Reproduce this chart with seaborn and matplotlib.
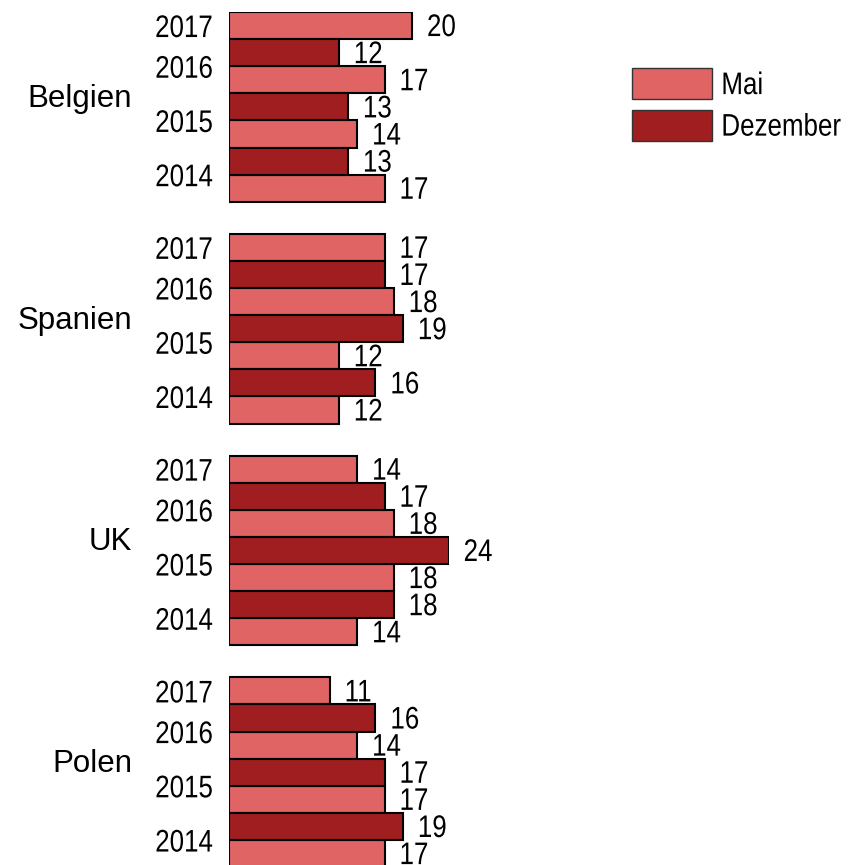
import pandas as pd
import matplotlib.pyplot as plt
import seaborn as sns
from matplotlib.patches import Patch
from matplotlib.transforms import Affine2D
from matplotlib import patheffects

# Data
countries = ["Belgien", "Spanien", "UK", "Polen"]
# bar order inside each country block, top to bottom
bar_years = [2017, 2016, 2016, 2015, 2015, 2014, 2014]
bar_months = ["Mai", "Dezember", "Mai", "Dezember", "Mai", "Dezember", "Mai"]
belgien = [20, 12, 17, 13, 14, 13, 17]
spanien = [17, 17, 18, 19, 12, 16, 12]
uk = [14, 17, 18, 24, 18, 18, 14]
polen = [11, 16, 14, 17, 17, 19, 17]
months = ["Mai", "Dezember"]
colors = {"Mai": "#E06464", "Dezember": "#A01E1F"}

GROUP_STEP = 8.18  # 7 bars + gap
FONT = ["Liberation Sans", "DejaVu Sans"]
FS = 22.5


# no narrow font installed, so squeeze the glyphs horizontally instead
class Narrow(patheffects.AbstractPathEffect):
    def __init__(self, sx=0.83):
        super().__init__()
        self.sx = sx

    def draw_path(self, renderer, gc, tpath, affine, rgbFace=None):
        renderer.draw_path(gc, tpath, Affine2D().scale(self.sx, 1) + affine, rgbFace)


narrow = [Narrow()]

rows = []
for g, (name, vals) in enumerate(zip(countries, [belgien, spanien, uk, polen])):
    for i, v in enumerate(vals):
        rows.append({"land": name, "jahr": bar_years[i], "monat": bar_months[i],
                     "wert": v, "pos": g * GROUP_STEP + i})
df = pd.DataFrame(rows)

sns.set_style("white")
plt.rcParams["font.family"] = FONT
plt.rcParams["text.color"] = "black"
plt.rcParams["ytick.color"] = "black"

fig = plt.figure(figsize=(8.59, 8.65), dpi=100)
ax = fig.add_axes([229 / 859, 0, 24 * 9.15 / 859, 1 - 12 / 865])

sns.barplot(data=df, x="wert", y="pos", hue="monat", hue_order=months,
            palette=colors, orient="h", native_scale=True, width=1.0,
            dodge=False, saturation=1, errorbar=None, edgecolor="black",
            linewidth=1.5, legend=False, ax=ax)

ax.set_xlim(0, 24)
ax.set_ylim(30.96, -0.5)
sns.despine(ax=ax, left=True, bottom=True)
ax.set_xticks([])
ax.set_xlabel("")
ax.set_ylabel("")

# year labels sit between the two bars of the same year
year_pos = df.groupby(["land", "jahr"], sort=False)["pos"].mean()
ax.set_yticks(year_pos.values, [str(y) for (_, y) in year_pos.index])
ax.tick_params(axis="y", length=0, pad=3)
for lbl in ax.get_yticklabels():
    lbl.set_fontsize(FS)
    lbl.set_path_effects(narrow)

# country names
for g, name in enumerate(countries):
    ax.annotate(name, xy=(0, g * GROUP_STEP + 3.0), xytext=(-97, 0),
                textcoords="offset pixels", ha="right", va="baseline",
                fontsize=FS, annotation_clip=False)

# value labels
for _, r in df.iterrows():
    ax.annotate(str(r["wert"]), xy=(r["wert"], r["pos"]), xytext=(15, 1),
                textcoords="offset pixels", ha="left", va="center_baseline",
                fontsize=FS, annotation_clip=False, path_effects=narrow)

handles = [Patch(facecolor=colors[m], edgecolor="#333333", linewidth=1, label=m)
           for m in months]
leg = fig.legend(handles=handles, loc="upper left",
                 bbox_to_anchor=(632 / 859, 1 - 68 / 865), frameon=False,
                 borderpad=0, borderaxespad=0, handlelength=80 / 31.25,
                 handleheight=1.15, handletextpad=0.3, labelspacing=0.27,
                 fontsize=FS)
for t in leg.get_texts():
    t.set_path_effects(narrow)

fig.savefig("out.png", dpi=100)
